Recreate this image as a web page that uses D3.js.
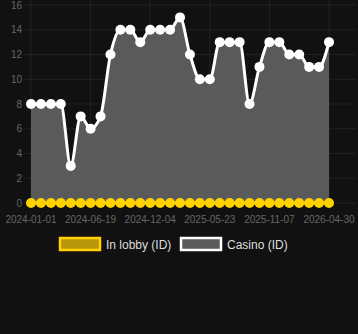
<!DOCTYPE html>
<html>
<head>
<meta charset="utf-8">
<script src="https://cdn.jsdelivr.net/npm/d3@7"></script>
<style>
  html, body { margin: 0; padding: 0; background: #111111; }
  svg { display: block; font-family: "Liberation Sans", Arial, sans-serif; }
</style>
</head>
<body>
<div id="chart"></div>
<script>
const dates = [
  "2024-01-01", "2024-01-29", "2024-02-26", "2024-03-25", "2024-04-22", "2024-05-21",
  "2024-06-19", "2024-07-17", "2024-08-14", "2024-09-11", "2024-10-09", "2024-11-06",
  "2024-12-04", "2025-01-01", "2025-01-29", "2025-02-27", "2025-03-28", "2025-04-25",
  "2025-05-23", "2025-06-20", "2025-07-18", "2025-08-15", "2025-09-12", "2025-10-10",
  "2025-11-07", "2025-12-05", "2026-01-02", "2026-01-30", "2026-03-04", "2026-04-02",
  "2026-04-30"
];
const casino = [8, 8, 8, 8, 3, 7, 6, 7, 12, 14, 14, 13, 14, 14, 14, 15,
  12, 10, 10, 13, 13, 13, 8, 11, 13, 13, 12, 12, 11, 11, 13];
const inLobby = [0, 0, 0, 0, 0, 0, 0, 0, 0, 0, 0, 0, 0, 0, 0, 0,
  0, 0, 0, 0, 0, 0, 0, 0, 0, 0, 0, 0, 0, 0, 0];
const yTicks = [0, 2, 4, 6, 8, 10, 12, 14, 16];
const xTickLabels = ["2024-01-01", "2024-06-19", "2024-12-04", "2025-05-23", "2025-11-07", "2026-04-30"];
const seriesNames = ["In lobby (ID)", "Casino (ID)"];

const width = 358, height = 334;
const plotLeft = 31, plotRight = 329, plotTop = 5, plotBottom = 203;

const svg = d3.select("#chart").append("svg")
  .attr("width", width)
  .attr("height", height);

const x = d3.scalePoint().domain(dates).range([plotLeft, plotRight]);
const y = d3.scaleLinear().domain([0, 16]).range([plotBottom, plotTop]);

// grid
svg.append("g").selectAll("line")
  .data(yTicks)
  .enter().append("line")
  .attr("x1", 24).attr("x2", 356)
  .attr("y1", d => y(d)).attr("y2", d => y(d))
  .attr("stroke", "rgba(255,255,255,0.07)");

svg.append("g").selectAll("line")
  .data(xTickLabels)
  .enter().append("line")
  .attr("x1", d => x(d)).attr("x2", d => x(d))
  .attr("y1", 0).attr("y2", plotBottom + 5)
  .attr("stroke", "rgba(255,255,255,0.07)");

// y axis labels
svg.append("g").selectAll("text")
  .data(yTicks)
  .enter().append("text")
  .attr("x", 22)
  .attr("y", d => y(d) + 3.5)
  .attr("text-anchor", "end")
  .attr("font-size", 10)
  .attr("fill", "#666")
  .text(d => d);

// x axis labels
svg.append("g").selectAll("text")
  .data(xTickLabels)
  .enter().append("text")
  .attr("x", d => x(d))
  .attr("y", 223)
  .attr("text-anchor", "middle")
  .attr("font-size", 10)
  .attr("fill", "#666")
  .text(d => d);

// casino area + line
const area = d3.area()
  .x((d, i) => x(dates[i]))
  .y0(y(0))
  .y1(d => y(d))
  .curve(d3.curveMonotoneX);

const line = d3.line()
  .x((d, i) => x(dates[i]))
  .y(d => y(d))
  .curve(d3.curveMonotoneX);

svg.append("path")
  .datum(casino)
  .attr("fill", "#5a5a5a")
  .attr("d", area);

svg.append("path")
  .datum(casino)
  .attr("fill", "none")
  .attr("stroke", "#fff")
  .attr("stroke-width", 3)
  .attr("d", line);

svg.append("g").selectAll("circle")
  .data(casino)
  .enter().append("circle")
  .attr("cx", (d, i) => x(dates[i]))
  .attr("cy", d => y(d))
  .attr("r", 5)
  .attr("fill", "#fff");

// in lobby line
svg.append("path")
  .datum(inLobby)
  .attr("fill", "none")
  .attr("stroke", "#ffd200")
  .attr("stroke-width", 3)
  .attr("d", line);

svg.append("g").selectAll("circle")
  .data(inLobby)
  .enter().append("circle")
  .attr("cx", (d, i) => x(dates[i]))
  .attr("cy", d => y(d))
  .attr("r", 5)
  .attr("fill", "#ffd200");

// legend
const legendItems = [
  { name: seriesNames[0], x: 60, fill: "#b8960a", stroke: "#ffd200" },
  { name: seriesNames[1], x: 181, fill: "#5a5a5a", stroke: "#fff" }
];
const lg = svg.append("g").selectAll("g")
  .data(legendItems)
  .enter().append("g");

lg.append("rect")
  .attr("x", d => d.x)
  .attr("y", 238)
  .attr("width", 40)
  .attr("height", 12)
  .attr("fill", d => d.fill)
  .attr("stroke", d => d.stroke)
  .attr("stroke-width", 2.5);

lg.append("text")
  .attr("x", d => d.x + 46)
  .attr("y", 248.5)
  .attr("font-size", 12)
  .attr("fill", "#ddd")
  .text(d => d.name);
</script>
</body>
</html>
